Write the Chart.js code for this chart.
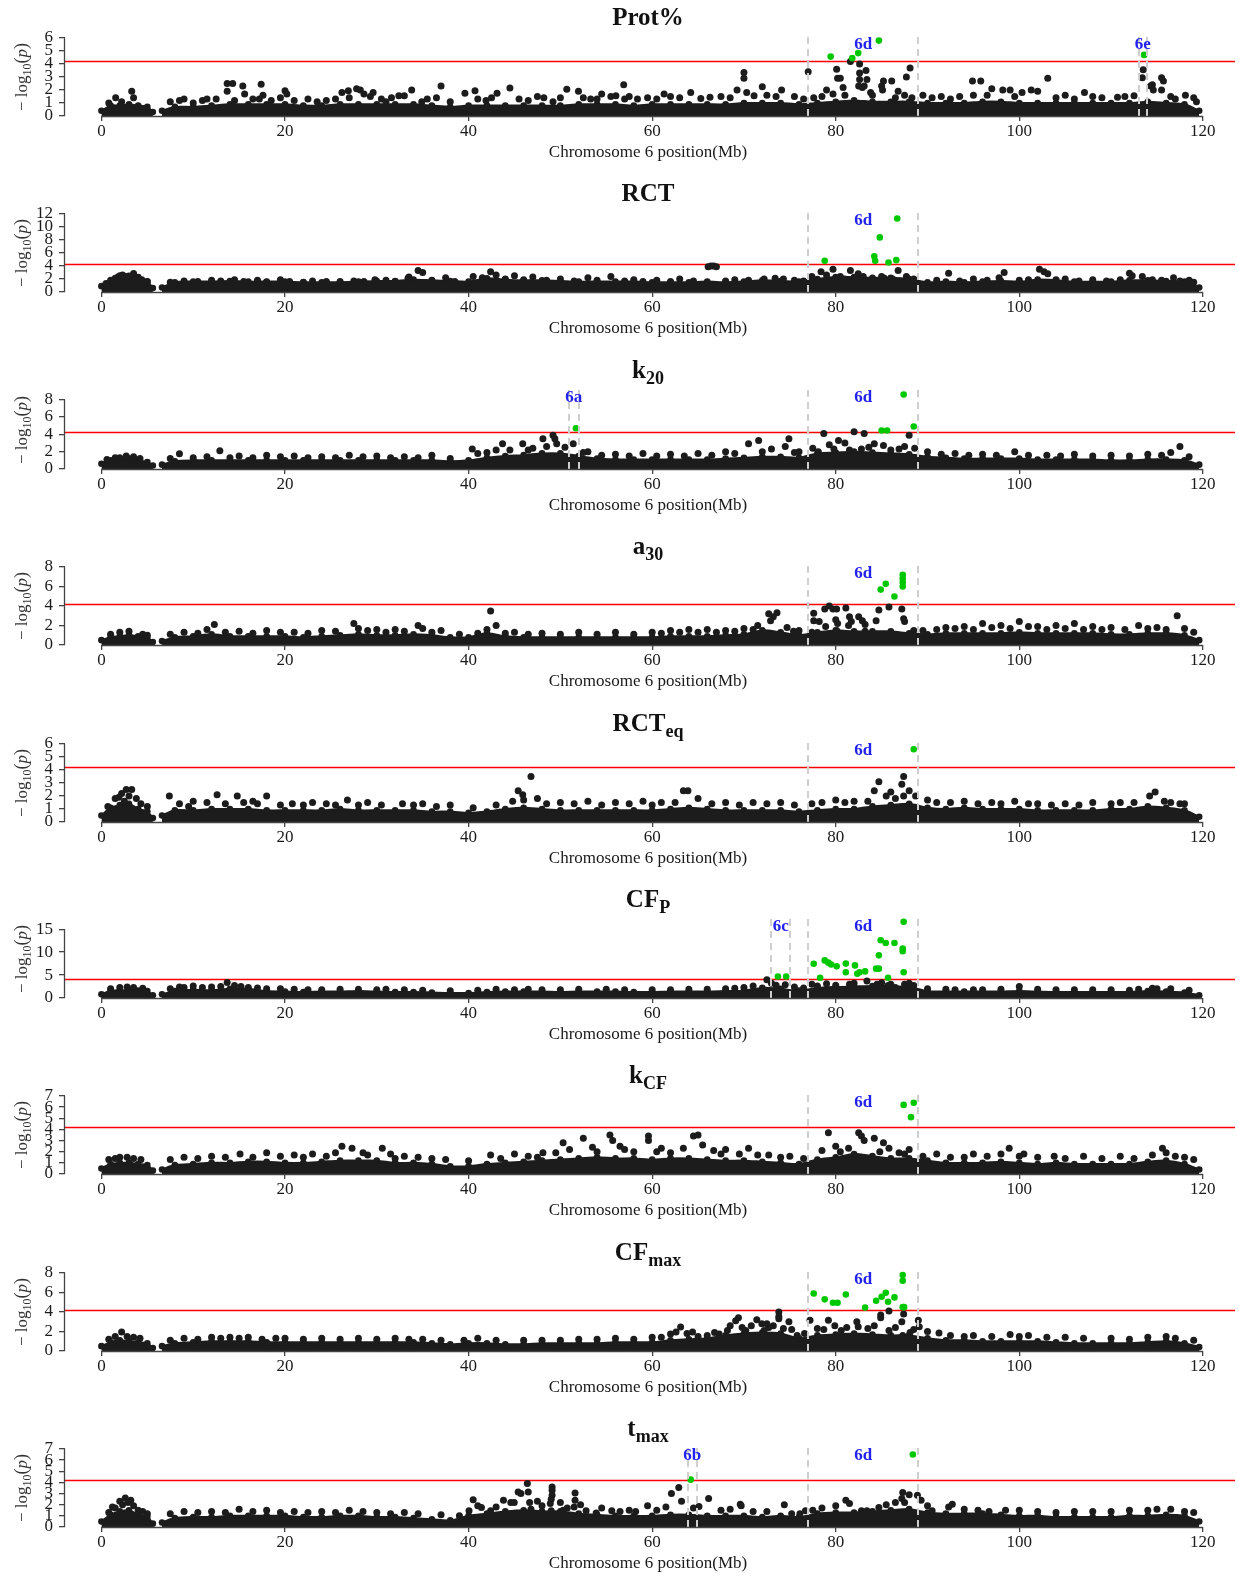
<!DOCTYPE html>
<html><head><meta charset="utf-8">
<script src="https://cdn.jsdelivr.net/npm/chart.js@4.4.1/dist/chart.umd.min.js"></script>
<style>html,body{margin:0;padding:0;background:#fff;width:1239px;height:1579px;overflow:hidden;position:relative}canvas{position:absolute;left:0}</style>
</head><body>
<script>
// ---------------- data ----------------
const X_TICKS = [0, 20, 40, 60, 80, 100, 120];
const THRESH = 4.25;
// positions (Mb) where the dense baseline band of SNPs is sampled; null = no markers
const BAND_POS = [0,1,2,3,4,5,5.6,6.1,6.6,8,10,12,14,16,18,20,22,24,26,28,30,32,34,36,38,40,42,44,46,48,50,52,54,56,58,60,62,64,66,68,70,72,74,76,78,80,82,84,86,88,90,92,94,96,98,100,102,104,106,108,110,112,114,116,118,119.6];

const PROT_BAND = [0.4,0.8,0.8,0.9,0.8,0.7,0.3,null,0.4,0.7,0.7,0.8,0.9,0.9,0.9,0.9,0.8,0.8,0.9,0.9,0.9,0.9,0.9,0.8,0.7,0.8,0.8,0.8,0.8,0.8,0.8,0.9,0.9,0.9,0.8,0.9,0.9,0.9,0.9,0.9,1.0,1.0,1.0,0.9,1.0,1.1,1.2,1.1,1.1,1.1,1.0,1.0,1.0,1.1,1.1,1.0,1.0,1.0,1.0,1.0,1.0,1.0,1.1,1.0,0.9,0.4];
const PROT_BLACK = [[1.55,1.4],[3.3,1.9],[3.5,1.4],[2.2,1.1],[0.8,1.0],[13.7,2.5],[14.3,2.5],[13.7,1.9],[15.4,2.3],[15.6,1.7],[17.4,2.45],[17.6,1.6],[17.2,1.3],[19.5,1.4],[20.0,1.95],[20.2,1.7],[12.5,1.3],[11,1.2],[9,1.3],[26.2,1.8],[26.9,1.95],[27.8,2.1],[28.2,2.0],[28.6,1.7],[29.3,1.5],[29.6,1.8],[31.6,1.4],[32.4,1.55],[33.0,1.55],[33.8,2.0],[34.9,1.1],[37.0,2.3],[39.6,1.75],[40.7,1.95],[41.9,1.2],[43.1,1.75],[44.5,2.15],[48.2,1.4],[49.2,1.1],[50.7,2.05],[51.97,1.9],[53.3,1.3],[54.5,1.7],[55.5,1.5],[56.05,1.55],[56.9,2.4],[57.0,1.3],[58.4,1.3],[61.3,1.7],[62.0,1.5],[64.2,1.8],[65.3,1.35],[66.3,1.45],[69.25,2.0],[70.3,1.8],[71.1,1.55],[70.0,3.35],[70.0,2.9],[72.0,2.25],[74.1,2.0],[77.0,3.4],[77.6,1.4],[81.6,4.2],[82.6,4.0],[80.1,3.6],[80.2,2.9],[80.5,2.9],[83.3,3.5],[82.6,3.3],[82.6,2.8],[83.4,2.8],[82.5,2.3],[82.9,2.2],[83.1,2.3],[85.2,2.7],[86.1,2.7],[85.0,2.3],[85.1,2.0],[88.1,3.7],[87.7,3.0],[79.7,1.7],[86.5,1.4],[87.5,1.6],[88.3,1.4],[78.5,1.5],[81,1.6],[84,1.6],[94.9,2.7],[95.8,2.7],[93.5,1.5],[95,1.6],[97.0,2.1],[98.2,2.0],[99.0,2.0],[100.3,1.8],[101.3,2.0],[102.0,1.9],[103.1,2.9],[107.1,1.8],[108.0,1.5],[110.7,1.45],[112.5,1.55],[113.5,3.55],[113.4,2.95],[114.5,2.4],[114.3,2.3],[115.5,2.95],[115.7,2.7],[114.6,2.0],[115.5,2.0],[116.5,1.5],[118.1,1.6],[119.3,1.1]];
const PROT_MID = [[7.5,1.1],[8.5,1.2],[10,1.0],[11.5,1.3],[14.5,1.2],[16.5,1.3],[18.5,1.2],[21,1.2],[22.5,1.3],[23.5,1.1],[24.5,1.2],[25.5,1.3],[27,1.4],[30.5,1.3],[31,1.1],[35.5,1.3],[36.5,1.4],[38,1.1],[41,1.3],[42.5,1.4],[45.5,1.3],[46.5,1.2],[47.5,1.5],[50,1.4],[52.5,1.4],[54,1.3],[57.5,1.5],[59.5,1.4],[60.5,1.3],[63,1.4],[67.5,1.5],[68.5,1.4],[72.5,1.6],[73.5,1.5],[75.5,1.5],[76.5,1.3],[79,2.0],[80.8,2.2],[83.8,1.8],[86.8,1.9],[89.5,1.6],[90.5,1.4],[91.5,1.5],[92.5,1.3],[96.5,1.6],[99.5,1.5],[104,1.4],[105,1.6],[106,1.3],[109,1.4],[111.5,1.5],[117,1.3],[119,1.4]];
const PROT_GREEN = [[79.45,4.57],[81.8,4.45],[82.45,4.84],[84.7,5.8],[113.6,4.7]];

const RCT_BAND = [0.9,1.5,2.3,2.5,2.3,1.6,0.6,null,0.7,1.5,1.6,1.6,1.7,1.6,1.6,1.6,1.5,1.5,1.5,1.6,1.7,1.7,1.9,1.8,1.7,1.6,2.1,1.9,1.8,1.8,1.7,1.6,1.6,1.6,1.6,1.5,1.5,1.5,1.6,1.5,1.6,1.8,1.7,1.6,2.0,2.3,2.3,2.2,2.2,2.0,1.5,1.6,1.5,1.6,1.7,1.6,1.9,1.8,1.6,1.6,1.6,1.8,1.8,1.7,1.6,0.7];
const RCT_BLACK = [[1.8,2.3],[2.0,2.5],[3.5,2.85],[4.0,2.2],[2.6,2.4],[1.2,1.6],[9,1.7],[12,1.8],[14.5,1.9],[17,1.8],[19.5,1.9],[22,1.5],[24.5,1.6],[28.6,1.6],[29.8,1.9],[33.4,2.1],[33.5,2.3],[34.5,3.3],[35,3.0],[37.5,2.2],[40.5,2.4],[42.4,3.1],[43,2.6],[45,2.5],[47,2.3],[50,2.0],[53,2.2],[55.5,2.4],[58,1.9],[60.5,1.8],[63,2.0],[66.1,3.9],[66.4,4.0],[66.7,4.0],[67.0,3.9],[69,1.9],[72.2,2.0],[73.4,2.1],[74.3,2.0],[77.4,2.4],[78.4,3.1],[79.7,3.5],[81.6,3.3],[82.45,2.8],[80.5,2.4],[81.0,2.0],[82.2,2.2],[84.0,2.0],[85.3,2.1],[86.2,2.0],[86.8,3.3],[87.7,2.4],[91.0,1.8],[92.3,2.9],[95,2.0],[97.8,2.2],[98.35,3.0],[102.2,3.5],[102.7,3.1],[103.1,2.8],[105,2.0],[108,1.9],[112.0,2.9],[112.3,2.5],[113.4,2.4],[116.8,2.2],[118.5,1.8]];
const RCT_MID = [[0.5,1.3],[1.0,1.8],[1.5,2.1],[2.3,2.6],[3.0,2.4],[4.4,1.9],[5.0,1.6],[7.5,1.5],[10.5,1.6],[13,1.7],[15.5,1.6],[18,1.5],[20.5,1.6],[23,1.7],[26,1.6],[27.5,1.7],[31,1.8],[32,1.6],[36,1.8],[38.5,1.6],[41.5,2.2],[44,2.0],[46,1.9],[48.5,1.8],[51.5,1.7],[54,1.8],[57,1.7],[59,1.6],[62,1.6],[64.5,1.7],[68,1.7],[70.5,1.8],[75.5,1.8],[76.5,1.7],[79,2.6],[80,2.2],[83,2.4],[85,2.4],[88.5,2.0],[93.5,1.7],[96.5,1.8],[100,1.8],[101,1.9],[104,1.9],[106.5,1.7],[109.5,1.7],[111,1.9],[114.5,1.9],[115.5,1.8],[117.5,1.7],[119,1.5]];
const RCT_GREEN = [[78.8,4.8],[84.2,5.5],[84.3,4.8],[84.8,8.4],[85.75,4.55],[86.6,4.9],[86.7,11.3]];

const K20_BAND = [0.6,1.0,1.1,1.2,1.0,0.8,0.4,null,0.5,0.9,1.0,1.0,1.0,1.0,1.0,1.0,1.0,1.0,1.0,1.0,1.0,1.0,1.0,1.0,0.9,1.0,1.3,1.5,1.6,1.8,1.8,1.5,1.2,1.1,1.1,1.1,1.1,1.1,1.1,1.2,1.3,1.4,1.4,1.3,1.8,1.9,2.0,1.9,1.8,1.7,1.4,1.3,1.2,1.2,1.2,1.2,1.1,1.1,1.1,1.1,1.0,1.0,1.1,1.1,1.0,0.5];
const K20_BLACK = [[2.7,1.5],[1.5,1.3],[3.5,1.4],[8.5,1.75],[12.9,2.1],[15,1.5],[18,1.6],[21,1.5],[24,1.4],[27,1.6],[30,1.5],[33,1.4],[36,1.6],[40.4,2.3],[42,1.9],[43.7,2.9],[44.5,2.2],[45.9,2.9],[47,2.4],[48.1,3.5],[49.2,3.9],[49.4,3.5],[49.6,2.9],[51.4,2.9],[50.5,2.5],[53,2.0],[56,1.7],[59,1.8],[62,1.7],[65,1.8],[68,2.0],[70.5,2.9],[71.6,3.3],[73,2.3],[74.9,3.5],[74.5,2.6],[76,2.0],[78.1,2.0],[78.7,4.1],[79.8,2.3],[80.3,3.3],[82.0,4.3],[83.1,4.1],[82.8,2.3],[84.2,2.9],[85.2,2.7],[86.9,2.3],[88.0,3.9],[87.5,2.6],[81,3.0],[90,2.0],[93,1.8],[96,1.7],[99.5,2.0],[103,1.6],[106,1.7],[110,1.6],[114,1.7],[117.5,2.6],[116.5,1.9]];
const K20_MID = [[0.6,1.1],[2,1.3],[4.2,1.2],[7.5,1.2],[10,1.3],[11.5,1.4],[14,1.3],[16.5,1.3],[19.5,1.4],[22.5,1.3],[25.5,1.3],[28.5,1.4],[31.5,1.3],[34.5,1.3],[38,1.2],[41,1.8],[43,2.2],[46.5,2.2],[48.5,2.6],[52.5,1.9],[54.5,1.6],[57.5,1.5],[60.5,1.5],[63.5,1.5],[66.5,1.6],[69,1.8],[72,2.0],[75.5,1.9],[77.5,2.4],[79.3,2.8],[81.5,2.2],[83.6,2.5],[86,2.2],[88.6,2.4],[91.5,1.7],[94.5,1.6],[97.5,1.6],[101,1.6],[104.5,1.5],[108,1.5],[112,1.5],[115.5,1.6],[118.5,1.4]];
const K20_GREEN = [[51.7,4.7],[85.0,4.45],[85.6,4.45],[87.4,8.6],[88.5,4.9]];

const A30_BAND = [0.5,0.8,0.9,1.0,0.9,0.7,0.3,null,0.4,0.8,0.9,1.1,0.9,0.9,0.9,0.9,0.8,0.9,1.0,1.1,1.0,1.0,1.1,1.0,0.8,0.8,1.2,0.9,0.8,0.8,0.8,0.8,0.8,0.8,0.8,0.8,0.9,0.9,0.9,1.0,1.1,1.5,1.3,1.0,1.3,1.5,1.4,1.4,1.4,1.2,1.1,1.2,1.2,1.2,1.2,1.3,1.2,1.2,1.2,1.2,1.1,1.1,1.2,1.2,1.0,0.5];
const A30_BLACK = [[2,1.3],[3,1.4],[4.5,1.1],[9,1.3],[12.3,2.1],[11.5,1.6],[15,1.4],[18,1.5],[21,1.3],[24,1.5],[27.5,2.2],[28,1.7],[30,1.6],[32,1.6],[34.5,2.0],[35,1.7],[37,1.5],[42.4,3.5],[43,2.0],[42,1.6],[45,1.3],[48,1.2],[52,1.3],[56,1.3],[60,1.3],[62,1.5],[64,1.6],[66,1.6],[68,1.5],[70,1.7],[72.7,3.2],[73.2,2.9],[72.9,2.5],[73.6,3.3],[74.7,1.8],[75.4,1.4],[71.5,2.0],[79.3,4.0],[79.7,3.7],[80.1,3.7],[78.8,3.7],[81.1,3.8],[77.6,3.25],[77.6,2.5],[78.2,2.4],[77.4,1.3],[78.9,1.9],[80.0,2.6],[80.2,2.2],[80.1,1.5],[81.5,2.9],[81.7,2.4],[81.4,2.0],[82.5,2.9],[82.9,2.5],[83.2,2.1],[83.2,1.4],[84.7,3.6],[85.8,3.9],[84.4,2.5],[87.2,3.7],[87.4,2.7],[87.5,2.4],[88.5,1.5],[92,1.8],[94,1.9],[96,2.2],[98,2.0],[100,2.4],[102,1.9],[104,2.0],[106,2.2],[108,1.9],[110,1.8],[113,2.0],[115,1.8],[117.2,3.0],[118,1.7]];
const A30_MID = [[1,1.1],[5,1.0],[7.5,1.1],[10.5,1.2],[13.5,1.3],[16.5,1.2],[19.5,1.3],[22.5,1.2],[25.5,1.4],[29,1.5],[31,1.3],[33,1.4],[36,1.3],[39,1.1],[41,1.2],[44,1.2],[46.5,1.1],[50,1.1],[54,1.1],[58,1.1],[61,1.2],[63,1.3],[65,1.3],[67,1.3],[69,1.4],[71,1.6],[76,1.5],[89.5,1.5],[91,1.6],[93,1.7],[95,1.6],[97,1.8],[99,1.7],[101,1.9],[103,1.6],[105,1.7],[107,1.6],[109,1.6],[111.5,1.6],[114,1.7],[116,1.6],[119,1.3]];
const A30_GREEN = [[84.9,5.68],[85.45,6.27],[86.4,4.98],[87.3,7.2],[87.3,6.8],[87.3,6.4],[87.3,6.0]];

const RCTEQ_BAND = [0.5,1.1,1.3,1.4,1.0,0.8,0.3,null,0.5,0.9,0.9,1.0,1.0,1.0,0.9,0.9,0.9,0.9,1.0,0.9,0.9,0.9,0.9,0.8,0.8,0.7,0.8,1.0,1.1,1.0,0.9,0.9,0.9,0.9,0.9,0.9,1.0,1.1,1.0,0.9,0.9,0.9,0.9,0.8,0.9,1.0,1.0,1.2,1.3,1.4,1.1,1.0,1.1,1.0,1.0,1.0,0.9,0.9,0.9,0.9,1.0,1.0,1.2,1.1,0.9,0.4];
const RCTEQ_BLACK = [[2.2,2.2],[2.7,2.5],[3.3,2.5],[1.5,1.8],[3.8,1.8],[2.5,1.6],[7.4,2.0],[10,1.6],[12.6,2.1],[14.8,2.0],[16.5,1.6],[18.0,2.0],[20.8,1.4],[23,1.5],[26.8,1.7],[29,1.5],[32.8,1.4],[35,1.4],[38,1.3],[44.8,1.6],[45.4,2.4],[45.9,2.1],[46.8,3.5],[47.5,1.8],[50,1.5],[53,1.6],[56,1.5],[59,1.6],[61,1.5],[63.4,2.4],[63.9,2.4],[65,1.8],[68,1.5],[71,1.5],[74,1.5],[77.4,1.4],[80,1.7],[82,1.6],[84.7,3.1],[84.2,2.4],[87.4,3.5],[87.2,2.9],[88.0,2.4],[87.4,2.0],[85.5,2.0],[86.5,1.8],[91,1.5],[94.0,1.6],[97,1.5],[99.5,1.6],[102,1.4],[105,1.4],[108,1.5],[111,1.5],[114.2,2.0],[114.8,2.3],[115.8,1.6],[118,1.4]];
const RCTEQ_MID = [[0.7,1.2],[1.9,1.9],[3.0,2.0],[4.3,1.4],[5.0,1.2],[8.5,1.4],[9.5,1.2],[11.5,1.5],[13.5,1.4],[15.5,1.5],[17,1.4],[19.5,1.3],[22,1.3],[24.5,1.4],[25.5,1.3],[28,1.3],[30.5,1.3],[34,1.3],[36.5,1.2],[40.5,1.1],[43,1.3],[46,1.7],[48.5,1.4],[51.5,1.4],[54.5,1.3],[57.5,1.4],[60,1.3],[62.5,1.5],[66.5,1.4],[69.5,1.3],[72.5,1.4],[75.5,1.3],[78.5,1.5],[81,1.5],[83.5,1.6],[86,2.3],[88.7,2.0],[90,1.7],[92.5,1.5],[95.5,1.4],[98,1.4],[101,1.4],[103.5,1.3],[106.5,1.3],[110,1.4],[112.5,1.5],[116.5,1.5],[117.5,1.4]];
const RCTEQ_GREEN = [[88.5,5.6]];

const CFP_BAND = [0.8,1.6,1.7,1.7,1.6,1.5,0.6,null,0.8,1.5,1.8,1.7,2.0,2.0,1.5,1.4,1.3,1.4,1.4,1.5,1.4,1.3,1.3,1.2,1.1,1.1,1.3,1.4,1.4,1.4,1.3,1.4,1.4,1.4,1.3,1.3,1.4,1.4,1.4,1.5,1.6,2.2,2.0,1.6,2.2,2.4,2.5,2.6,2.6,2.4,1.5,1.4,1.4,1.4,1.4,1.5,1.4,1.3,1.3,1.3,1.3,1.3,1.5,1.4,1.2,0.6];
const CFP_BLACK = [[2,2.3],[3.5,2.3],[9,2.3],[11,2.3],[13.7,3.4],[15.2,2.5],[16,2.3],[19.5,2.0],[24,1.8],[28,1.9],[33,1.8],[43,1.9],[48,1.8],[55,1.9],[60,1.8],[64,1.9],[68,2.0],[70,2.3],[71,2.6],[72.5,4.0],[73.0,3.2],[74.5,2.9],[77.4,3.0],[78,2.6],[80,2.8],[81.5,3.0],[83.4,3.7],[84.5,3.0],[85.7,2.7],[86.5,2.3],[87.5,3.0],[88.5,2.7],[90,2.0],[93,1.8],[96,1.8],[100,2.5],[104,1.8],[108,1.8],[112,1.7],[115,2.0]];
const CFP_MID = [[1,2.0],[2.8,2.4],[4.5,2.1],[7.5,2.0],[8.5,2.4],[10,2.6],[12,2.4],[13,2.5],[14.5,2.7],[17,2.2],[18,2.0],[21,1.9],[22.5,1.8],[26,1.9],[30,1.8],[31,1.9],[35,1.7],[38,1.6],[41,1.7],[45,1.8],[46.5,1.9],[50,1.8],[52,1.9],[57,1.8],[62,1.8],[66,1.9],[69,2.1],[73.5,2.8],[75.5,2.4],[76.5,2.2],[79,3.1],[82,3.2],[85,3.3],[86,3.0],[88,3.2],[92,1.9],[95,1.8],[98,1.9],[102,1.9],[106,1.8],[110,1.8],[113,1.9],[114.5,2.1],[116.5,2.0],[118.5,1.7]];
const CFP_GREEN = [[77.6,7.45],[78.3,4.4],[78.8,8.2],[79.2,7.7],[79.5,7.3],[80.1,6.9],[81.1,7.5],[81.1,5.6],[82.1,7.1],[82.35,5.3],[82.6,5.6],[83.2,5.8],[84.4,6.4],[84.7,6.4],[84.7,9.3],[84.9,12.6],[85.45,12.0],[86.4,12.0],[85.7,4.4],[87.3,10.8],[87.3,10.2],[87.4,16.6],[87.4,5.6],[73.7,4.7],[74.6,4.7]];

const KCF_BAND = [0.5,0.9,1.0,1.0,0.9,0.8,0.3,null,0.4,0.8,0.9,1.0,1.0,1.1,1.1,1.0,1.0,1.1,1.2,1.2,1.2,1.0,1.0,0.9,0.7,0.7,0.9,1.0,1.1,1.2,1.3,1.4,1.5,1.4,1.4,1.3,1.4,1.4,1.3,1.2,1.2,1.1,1.0,0.9,1.3,1.5,1.8,1.6,1.4,1.4,1.2,1.0,1.0,1.0,1.1,1.0,0.9,1.0,0.9,0.9,0.9,0.9,1.1,1.2,0.9,0.4];
const KCF_BLACK = [[2,1.5],[3.5,1.4],[9,1.5],[12,1.6],[15.1,1.8],[18.0,1.9],[21,1.7],[23,1.8],[26.2,2.5],[27.3,2.3],[28.5,1.9],[30.6,2.3],[31.5,1.8],[33,1.6],[36,1.4],[42.4,1.7],[45,1.8],[48.1,1.9],[50.3,2.8],[52.5,3.2],[51,2.2],[53.5,2.4],[55.4,3.5],[55.7,3.0],[57,2.2],[59.6,3.0],[59.6,3.4],[61,2.3],[63.4,2.3],[64.5,3.4],[65.0,3.5],[66.7,2.1],[68,2.2],[70.5,2.3],[72.7,1.7],[75,1.6],[79.2,3.7],[80,2.5],[81.4,2.3],[82.5,3.7],[82.8,3.4],[83.1,3.0],[84.2,3.2],[85.2,2.8],[85.8,2.3],[86.9,1.9],[88,2.2],[91,1.8],[95,1.8],[98.9,2.3],[100.5,1.8],[103.8,1.6],[107,1.6],[111,1.6],[115.6,2.3],[116,1.9],[118,1.5]];
const KCF_MID = [[0.8,1.3],[1.5,1.4],[2.8,1.5],[4.3,1.3],[7.5,1.3],[10.5,1.4],[13.5,1.5],[16.5,1.5],[19.5,1.6],[22,1.5],[24.5,1.6],[25.5,1.9],[29,1.7],[32,1.4],[34.5,1.5],[37.5,1.3],[40,1.2],[43.5,1.4],[46.5,1.6],[47.5,1.5],[49.5,1.9],[54,2.0],[56.5,2.5],[58,2.0],[60.5,2.0],[62,1.9],[65.5,2.6],[67.5,1.8],[69.5,1.8],[71.5,1.7],[74,1.5],[76.5,1.4],[78.5,2.1],[80.5,2.0],[84.8,2.0],[87.5,1.8],[89.5,1.6],[92.5,1.5],[94,1.5],[96.5,1.6],[98,1.8],[100,1.6],[102,1.5],[105,1.4],[109,1.4],[112.5,1.4],[114.5,1.7],[117,1.6],[119,1.3]];
const KCF_GREEN = [[87.4,6.2],[88.5,6.4],[88.2,5.1]];

const CFMAX_BAND = [0.5,0.9,1.1,1.0,0.9,0.8,0.3,null,0.5,0.8,0.9,1.0,1.0,1.0,0.9,0.9,0.9,0.9,0.9,0.9,0.9,0.9,0.9,0.8,0.7,0.8,0.8,0.7,0.7,0.8,0.8,0.8,0.8,0.9,0.9,0.9,1.1,1.2,1.3,1.6,1.8,1.9,1.8,1.3,1.6,1.7,1.8,1.7,1.6,1.6,1.3,1.1,1.1,1.0,1.0,1.0,1.0,0.9,0.8,0.8,0.8,0.8,0.9,1.0,0.8,0.4];
const CFMAX_BLACK = [[2.2,1.95],[1.5,1.5],[3.5,1.4],[9,1.3],[12,1.4],[14,1.4],[16,1.4],[20,1.3],[24,1.3],[28,1.3],[32,1.3],[35,1.2],[41,1.3],[46,1.1],[52,1.2],[56,1.3],[60,1.4],[62.0,1.75],[62.6,1.95],[63.1,2.45],[64.4,1.95],[66.0,1.6],[67.3,1.75],[68.2,2.1],[68.5,2.6],[69.1,3.1],[69.4,3.4],[70.2,2.1],[71.4,3.2],[71.95,2.8],[72.5,2.8],[72.7,2.4],[72.2,2.1],[73.8,4.0],[73.8,3.55],[73.8,3.3],[74.9,3.0],[74.3,2.3],[75.8,1.6],[77.2,3.15],[78.7,2.2],[79.2,3.15],[79.9,2.6],[81.2,2.4],[82.3,3.0],[82.45,2.5],[84.9,3.7],[84.9,3.4],[85.8,4.1],[85.8,2.1],[87.4,3.8],[87.2,3.0],[87.3,1.6],[88.1,1.9],[89.0,3.15],[89.1,2.5],[91.25,1.85],[95,1.6],[99,1.7],[101,1.6],[105,1.4],[110,1.3],[114,1.4],[116,1.5]];
const CFMAX_MID = [[0.8,1.2],[2.8,1.5],[4.2,1.3],[7.5,1.1],[10.5,1.2],[13,1.3],[15,1.3],[17.5,1.2],[19,1.3],[22,1.2],[26,1.2],[30,1.2],[33.5,1.2],[37,1.1],[39.5,1.1],[43,1.1],[48,1.1],[50,1.1],[54,1.2],[58,1.2],[61,1.4],[63.8,1.8],[65,1.5],[66.8,1.9],[69.8,2.4],[70.8,2.6],[73.2,2.6],[75.2,2.2],[76.6,1.8],[78,2.3],[80.6,2.1],[83.5,2.3],[84.2,2.6],[86.5,2.4],[88.5,2.2],[90,2.0],[92.5,1.6],[94,1.5],[97,1.5],[100,1.5],[103,1.4],[107,1.3],[112,1.2],[117,1.3],[119,1.1]];
const CFMAX_GREEN = [[77.6,5.9],[78.8,5.3],[79.7,4.95],[80.2,4.95],[81.1,5.8],[83.2,4.45],[84.4,5.15],[85.0,5.56],[85.45,5.97],[85.7,5.05],[86.4,5.5],[87.3,7.8],[87.3,7.2],[87.3,4.5],[87.45,4.5]];

const TMAX_BAND = [0.5,1.1,1.4,1.5,1.1,0.9,0.3,null,0.4,0.8,0.9,0.9,1.0,1.0,1.0,1.0,0.9,0.9,1.0,1.0,0.9,0.9,0.8,0.7,0.6,1.0,1.2,1.4,1.5,1.4,1.4,1.2,1.1,1.0,1.0,1.0,1.1,1.1,1.0,1.0,1.0,0.9,1.0,0.9,1.2,1.3,1.3,1.4,1.5,1.6,1.3,1.2,1.2,1.2,1.1,1.0,1.0,0.9,0.9,0.9,0.9,1.0,1.0,1.1,1.0,0.5];
const TMAX_BLACK = [[2,2.3],[2.6,2.6],[3.2,2.4],[3.5,1.9],[1.5,1.7],[4,1.5],[9,1.4],[12,1.4],[15,1.6],[18,1.5],[21,1.4],[24,1.4],[27,1.5],[30,1.3],[33,1.3],[40.5,2.45],[40.05,1.45],[41.4,1.75],[42.4,1.45],[44.6,2.2],[44.97,2.2],[45.4,3.15],[45.7,3.0],[46.5,3.15],[46.4,3.9],[46.65,2.2],[46.8,1.6],[49.1,3.6],[49.1,3.3],[49.1,2.85],[49.0,2.5],[48.9,2.1],[49.0,1.45],[50.75,1.7],[51.6,3.05],[51.6,2.4],[51.5,1.8],[52.8,1.45],[53.9,1.25],[55.6,1.45],[58.2,1.4],[59.5,1.9],[62.1,3.0],[62.9,3.55],[63.2,2.3],[65.1,1.85],[66.15,2.55],[69.6,2.05],[69.7,1.9],[74.4,2.0],[75.2,1.2],[76.1,1.2],[76.7,1.45],[81.1,2.4],[81.5,2.1],[82.8,1.45],[83.4,1.45],[84.7,1.75],[87.3,3.1],[88.0,2.9],[88.9,2.85],[87.2,2.55],[87.5,2.2],[89.3,2.4],[90.5,1.45],[92.3,1.8],[92.7,2.05],[96.7,1.4],[100,1.5],[104,1.3],[108,1.4],[112,1.5],[115,1.6],[118,1.4]];
const TMAX_MID = [[0.8,1.3],[1.2,1.8],[2.3,2.0],[2.9,2.2],[4.5,1.4],[5,1.2],[7.5,1.2],[10.5,1.3],[13.5,1.3],[16.5,1.4],[19.5,1.3],[22.5,1.3],[25.5,1.3],[28.5,1.4],[31.5,1.2],[34.5,1.2],[37,1.1],[39,1.0],[41,1.9],[43,1.8],[43.8,2.4],[47.5,2.3],[48,1.9],[50,2.2],[50.3,1.5],[52.2,2.0],[54.5,1.7],[56.5,1.4],[57.5,1.5],[60.5,1.5],[61.5,1.8],[64.5,1.7],[67.5,1.5],[68.5,1.6],[71,1.4],[72.5,1.4],[77.5,1.5],[78.5,1.7],[80,1.9],[85.5,2.0],[86.5,2.2],[90,1.9],[94,1.6],[95.5,1.5],[98.5,1.5],[102,1.4],[106,1.4],[110,1.4],[114,1.5],[116.5,1.6],[119,1.3]];
const TMAX_GREEN = [[64.2,4.25],[88.4,6.5]];

// y axis extents and tick steps
const Y_MAX  = [6, 12, 9, 8, 6, 17, 7, 8, 7];
const Y_STEP = [1, 2, 2, 2, 1, 5, 1, 2, 1];
const Y_TOP  = [6, 12, 8, 8, 6, 15, 7, 8, 7];

// titles: [text, isSubscript]
const TITLES = [
  [['Prot%',0]], [['RCT',0]], [['k',0],['20',1]], [['a',0],['30',1]], [['RCT',0],['eq',1]],
  [['CF',0],['P',1]], [['k',0],['CF',1]], [['CF',0],['max',1]], [['t',0],['max',1]]
];
const R6D = {lab:'6d', from:77, to:89};
const REGIONS = [
  [R6D, {lab:'6e', from:113, to:113.9}],
  [R6D],
  [{lab:'6a', from:50.9, to:52.0}, R6D],
  [R6D], [R6D],
  [{lab:'6c', from:73.0, to:75.0}, R6D],
  [R6D], [R6D],
  [{lab:'6b', from:63.9, to:64.85}, R6D]
];
const BANDS  = [PROT_BAND, RCT_BAND, K20_BAND, A30_BAND, RCTEQ_BAND, CFP_BAND, KCF_BAND, CFMAX_BAND, TMAX_BAND];
const BLACKS = [PROT_BLACK, RCT_BLACK, K20_BLACK, A30_BLACK, RCTEQ_BLACK, CFP_BLACK, KCF_BLACK, CFMAX_BLACK, TMAX_BLACK];
const MIDS   = [PROT_MID, RCT_MID, K20_MID, A30_MID, RCTEQ_MID, CFP_MID, KCF_MID, CFMAX_MID, TMAX_MID];
const GREENS = [PROT_GREEN, RCT_GREEN, K20_GREEN, A30_GREEN, RCTEQ_GREEN, CFP_GREEN, KCF_GREEN, CFMAX_GREEN, TMAX_GREEN];
const X_LABEL = 'Chromosome 6 position(Mb)';

// ---------------- drawing ----------------
const SERIF = '"Liberation Serif","Times New Roman",serif';
const W = 1239, PANEL_H = 176.4, CANVAS_H = 177;
const AREA_TOP = 38, AREA_BOTTOM = 116, AXIS_W = 65;

function drawParts(ctx, parts, cx, base) {
  let w = 0;
  parts.forEach(p => { ctx.font = p.f; p.w = ctx.measureText(p.t).width; w += p.w; });
  let x = cx - w / 2;
  ctx.textAlign = 'left'; ctx.textBaseline = 'alphabetic';
  parts.forEach(p => { ctx.font = p.f; ctx.fillText(p.t, x, base + (p.dy || 0)); x += p.w; });
}

const overlay = {
  id: 'overlay',
  beforeDatasetsDraw(chart) {
    const {ctx, chartArea: a, scales: {y}} = chart;
    const yy = Math.round(y.getPixelForValue(THRESH)) + 0.5;
    ctx.save();
    ctx.strokeStyle = '#ff0000'; ctx.lineWidth = 1.6;
    ctx.beginPath(); ctx.moveTo(a.left, yy); ctx.lineTo(a.right, yy); ctx.stroke();
    ctx.restore();
  },
  afterDatasetsDraw(chart) {
    const i = chart.options.plugins.overlay.idx;
    const {ctx, chartArea: a, scales: {x}} = chart;
    ctx.save();
    REGIONS[i].forEach(r => {
      ctx.strokeStyle = '#cfcfcf'; ctx.lineWidth = 2; ctx.setLineDash([7, 5]);
      [r.from, r.to].forEach(v => {
        const px = Math.round(x.getPixelForValue(v));
        ctx.beginPath(); ctx.moveTo(px, a.top - 1); ctx.lineTo(px, a.bottom); ctx.stroke();
      });
      ctx.setLineDash([]);
      ctx.fillStyle = '#2222ee';
      ctx.font = 'bold 17px ' + SERIF;
      ctx.textAlign = 'center'; ctx.textBaseline = 'alphabetic';
      ctx.fillText(r.lab, x.getPixelForValue((r.from + r.to) / 2), a.top + 11);
    });
    ctx.restore();
  },
  afterDraw(chart) {
    const i = chart.options.plugins.overlay.idx;
    const {ctx, chartArea: a, scales: {x, y}} = chart;
    ctx.save();
    ctx.strokeStyle = '#444'; ctx.lineWidth = 1.3;
    ctx.beginPath();
    ctx.moveTo(x.getPixelForValue(X_TICKS[0]), a.bottom + 0.5);
    ctx.lineTo(x.getPixelForValue(X_TICKS[X_TICKS.length - 1]), a.bottom + 0.5);
    ctx.stroke();
    ctx.beginPath();
    ctx.moveTo(a.left - 0.5, y.getPixelForValue(0));
    ctx.lineTo(a.left - 0.5, y.getPixelForValue(Y_TOP[i]));
    ctx.stroke();
    ctx.fillStyle = '#111';
    const parts = TITLES[i].map(([t, s]) => ({t, f: 'bold ' + (s ? 18 : 25) + 'px ' + SERIF, dy: s ? 6 : 0}));
    const cx = (a.left + a.right) / 2 - 2;
    drawParts(ctx, parts, cx, 25);
    ctx.fillStyle = '#1a1a1a';
    ctx.font = '17px ' + SERIF; ctx.textAlign = 'center'; ctx.textBaseline = 'alphabetic';
    ctx.fillText(X_LABEL, cx, 157);
    ctx.translate(27, 77);
    ctx.rotate(-Math.PI / 2);
    ctx.fillStyle = '#333';
    drawParts(ctx, [
      {t: '\u2212 log', f: '17px ' + SERIF},
      {t: '10', f: '12px ' + SERIF, dy: 4},
      {t: '(', f: '18px ' + SERIF},
      {t: 'p', f: 'italic 17px ' + SERIF},
      {t: ')', f: '18px ' + SERIF}
    ], 0, 0);
    ctx.restore();
  }
};
Chart.register(overlay);

for (let i = 0; i < 9; i++) {
  const c = document.createElement('canvas');
  c.width = W; c.height = CANVAS_H;
  c.style.width = W + 'px'; c.style.height = CANVAS_H + 'px';
  c.style.top = Math.round(i * PANEL_H) + 'px';
  document.body.appendChild(c);
  const yTicks = [];
  for (let v = 0; v <= Y_TOP[i]; v += Y_STEP[i]) yTicks.push(v);
  const toPts = arr => arr.map(([px, py]) => ({x: px, y: py}));
  new Chart(c, {
    type: 'scatter',
    data: {
      datasets: [
        {data: toPts(GREENS[i]), backgroundColor: '#00c800', borderColor: '#00c800', borderWidth: 0, pointRadius: 3.3, order: 0, clip: false},
        {data: toPts(BLACKS[i].concat(MIDS[i])), backgroundColor: '#1c1c1c', borderColor: '#1c1c1c', borderWidth: 0, pointRadius: 3.5, order: 1, clip: false},
        {type: 'line', data: BAND_POS.map((px, k) => ({x: px, y: BANDS[i][k]})), showLine: true, fill: 'origin',
         backgroundColor: '#1c1c1c', borderColor: '#1c1c1c', borderWidth: 2, pointRadius: 3.3, pointBackgroundColor: '#1c1c1c', pointBorderWidth: 0,
         tension: 0.3, spanGaps: false, order: 2}
      ]
    },
    options: {
      responsive: false, animation: false, devicePixelRatio: 1, events: [],
      layout: {padding: {top: AREA_TOP, left: 0, right: 0, bottom: 0}},
      plugins: {legend: {display: false}, tooltip: {enabled: false}, title: {display: false}, overlay: {idx: i}},
      scales: {
        x: {
          type: 'linear', min: -3.97, max: 123.5,
          afterBuildTicks: s => { s.ticks = X_TICKS.map(v => ({value: v})); },
          afterFit: s => { s.height = CANVAS_H - AREA_BOTTOM; },
          border: {display: false},
          grid: {drawOnChartArea: false, drawTicks: true, tickLength: 5, color: '#444', lineWidth: 1.3},
          ticks: {font: {size: 17, family: SERIF}, color: '#1a1a1a', padding: 0, maxRotation: 0, autoSkip: false}
        },
        y: {
          min: 0, max: Y_MAX[i],
          afterBuildTicks: s => { s.ticks = yTicks.map(v => ({value: v})); },
          afterFit: s => { s.width = AXIS_W; },
          border: {display: false},
          grid: {drawOnChartArea: false, drawTicks: true, tickLength: 6, color: '#444', lineWidth: 1.3},
          ticks: {font: {size: 17, family: SERIF}, color: '#1a1a1a', padding: 6, autoSkip: false}
        }
      }
    }
  });
}
</script>
</body></html>
